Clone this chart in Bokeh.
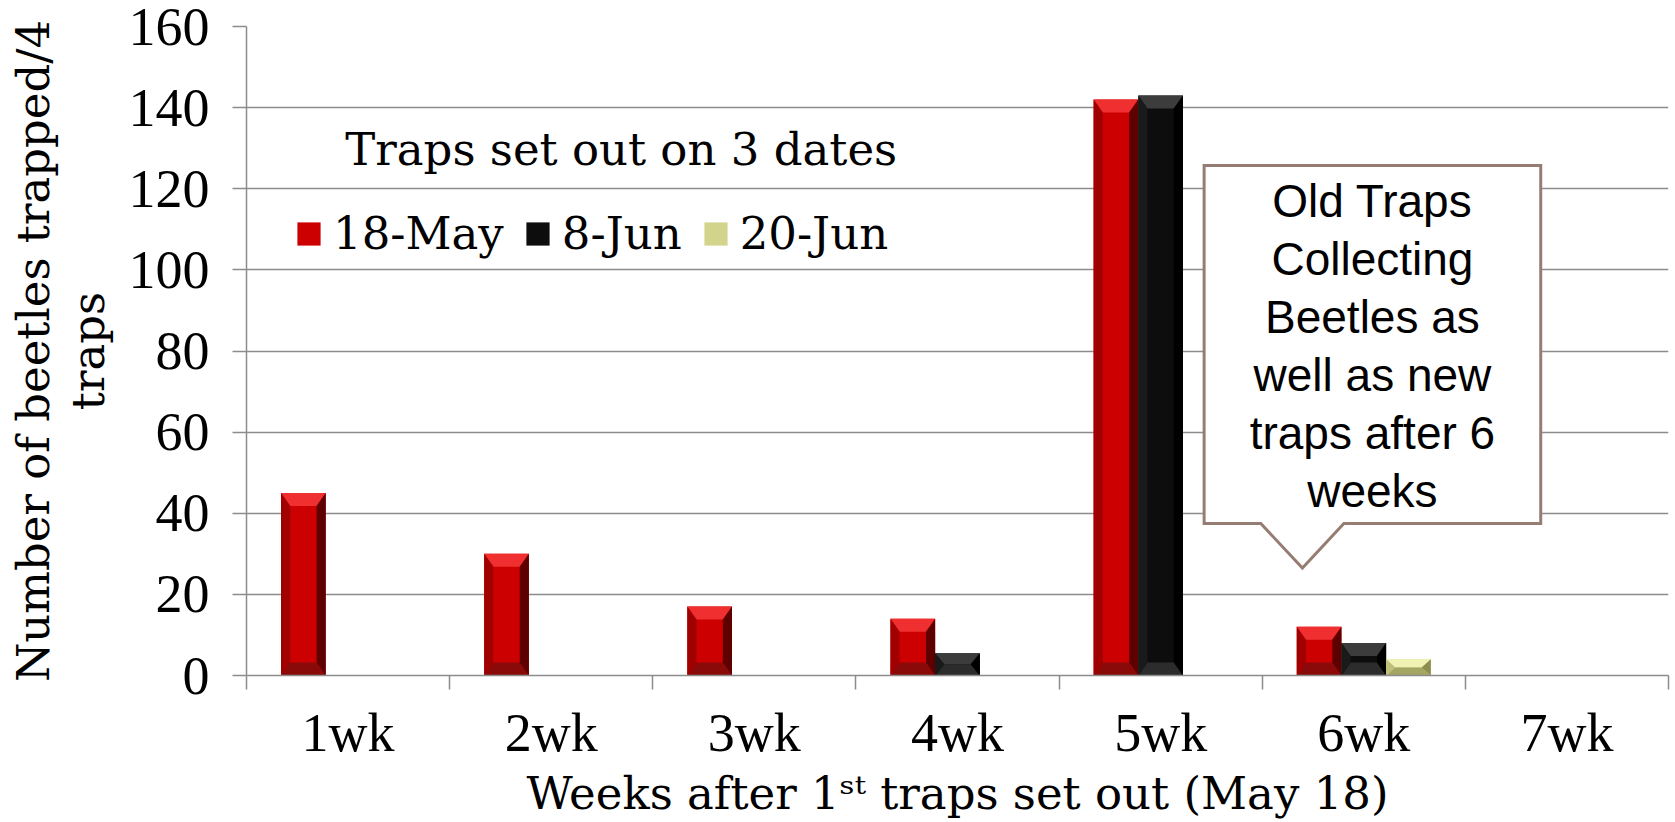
import numpy as np
from bokeh.plotting import figure
from bokeh.models import (Range1d, FixedTicker, ColumnDataSource, Legend, LegendItem, Label,
                          LinearAxis)
from bokeh.core.properties import value
from bokeh.embed import file_html
from bokeh.resources import INLINE

# ---------------- data ----------------
weeks = ["1wk", "2wk", "3wk", "4wk", "5wk", "6wk", "7wk"]
may18 = [45, 30, 17, 14, 142, 12, 0]
jun8 = [0, 0, 0, 5.5, 143, 8, 0]
jun20 = [0, 0, 0, 0, 0, 4, 0]
series_names = ["18-May", "8-Jun", "20-Jun"]
y_ticks = [0, 20, 40, 60, 80, 100, 120, 140, 160]
x_title = "Weeks after 1\u02e2\u1d57 traps set out (May 18)"
y_title_lines = ["Number of beetles trapped/4", "traps"]
legend_title = "Traps set out on 3 dates"
callout_lines = ["Old Traps", "Collecting", "Beetles as", "well as new", "traps after 6", "weeks"]

# ---------------- styles ----------------
SERIF = "Liberation Serif"
SERIF2 = "DejaVu Serif"
GRID = "#8c8c8c"
palettes = [
    dict(face="#CC0000", top="#F03030", bottom="#8A0A0A", left="#A00000", right="#5E0000"),
    dict(face="#0D0D0D", top="#3C3C3C", bottom="#2C2C2C", left="#1A1A1A", right="#000000"),
    dict(face="#D2D48C", top="#F0F2B4", bottom="#A4A664", left="#BEC07A", right="#8C8E50"),
]
offsets = [-0.22, 0.0, 0.22]
bar_w = 0.22
bev_x = 0.045
bev_y = 3.2

p = figure(width=1673, height=822,
           x_range=Range1d(0, len(weeks)), y_range=Range1d(0, 160),
           output_backend="svg", toolbar_location=None,
           min_border_left=246, min_border_right=5, min_border_top=26, min_border_bottom=146)
p.outline_line_color = None
p.background_fill_color = "white"
p.border_fill_color = "white"

centers = np.arange(len(weeks)) + 0.5
series = [may18, jun8, jun20]
main_renderers = []
for vals, off, pal in zip(series, offsets, palettes):
    xs_c = centers + off
    src = ColumnDataSource(dict(x=xs_c, top=vals))
    r = p.vbar(x="x", top="top", bottom=0, width=bar_w, source=src,
               fill_color=pal["face"], line_color=None)
    main_renderers.append(r)
    # bevel facets computed from the data
    pxs, pys, pcol = [], [], []
    for c, v in zip(xs_c, vals):
        if v <= 0:
            continue
        l, rr = c - bar_w / 2, c + bar_w / 2
        by = min(bev_y, v / 2.0)
        facets = [
            ([l, rr, rr - bev_x, l + bev_x], [v, v, v - by, v - by], pal["top"]),
            ([l, rr, rr - bev_x, l + bev_x], [0, 0, by, by], pal["bottom"]),
            ([l, l, l + bev_x, l + bev_x], [0, v, v - by, by], pal["left"]),
            ([rr, rr, rr - bev_x, rr - bev_x], [0, v, v - by, by], pal["right"]),
        ]
        for fx, fy, col in facets:
            pxs.append(fx); pys.append(fy); pcol.append(col)
    if pxs:
        p.patches(xs="xs", ys="ys", fill_color="c", line_color=None,
                  source=ColumnDataSource(dict(xs=pxs, ys=pys, c=pcol)))

# ---------------- axes ----------------
p.xgrid.visible = False
p.ygrid.grid_line_color = GRID
p.ygrid.grid_line_width = 1.5

ya = p.yaxis[0]
ya.ticker = FixedTicker(ticks=y_ticks, minor_ticks=[])
ya.major_tick_out = 14
ya.major_tick_in = 0
ya.minor_tick_out = 0
ya.minor_tick_in = 0
ya.axis_line_color = GRID
ya.axis_line_width = 1.5
ya.major_tick_line_color = GRID
ya.major_tick_line_width = 1.5
ya.major_label_text_font = SERIF
ya.major_label_text_font_size = "54px"
ya.major_label_text_color = "black"
ya.major_label_standoff = 23
ya.axis_label = y_title_lines[1]
ya.axis_label_text_font = SERIF2
ya.axis_label_text_font_size = "45px"
ya.axis_label_text_font_style = "normal"
ya.axis_label_text_color = "black"
ya.axis_label_standoff = 11

# outer axis carrying the first line of the y title
ya2 = LinearAxis(ticker=FixedTicker(ticks=[], minor_ticks=[]),
                 major_tick_out=0, major_tick_in=0, minor_tick_out=0, minor_tick_in=0,
                 axis_line_color=None, major_label_standoff=0,
                 major_label_text_font_size="0px",
                 axis_label=y_title_lines[0], axis_label_text_font=SERIF2,
                 axis_label_text_font_size="45px", axis_label_text_font_style="normal",
                 axis_label_text_color="black", axis_label_standoff=-1)
p.add_layout(ya2, "left")

xa = p.xaxis[0]
xa.ticker = FixedTicker(ticks=list(centers), minor_ticks=list(range(len(weeks) + 1)))
xa.major_label_overrides = {float(c): w for c, w in zip(centers, weeks)}
xa.major_tick_out = 0
xa.major_tick_in = 0
xa.minor_tick_out = 14
xa.minor_tick_in = 0
xa.minor_tick_line_color = GRID
xa.minor_tick_line_width = 1.5
xa.axis_line_color = GRID
xa.axis_line_width = 1.5
xa.major_label_text_font = SERIF
xa.major_label_text_font_size = "54px"
xa.major_label_text_color = "black"
xa.major_label_standoff = 13
xa.axis_label = x_title
xa.axis_label_text_font = SERIF2
xa.axis_label_text_font_size = "45px"
xa.axis_label_text_font_style = "normal"
xa.axis_label_text_color = "black"
xa.axis_label_standoff = 1

# ---------------- legend ----------------
legend = Legend(items=[LegendItem(label=n, renderers=[r]) for n, r in zip(series_names, main_renderers)],
                orientation="horizontal", location=(48, 415),
                glyph_width=29, glyph_height=29, label_standoff=10, spacing=19,
                padding=0, margin=0, border_line_color=None, background_fill_alpha=0,
                label_text_font=SERIF2, label_text_font_size="45px", label_text_color="black")
p.add_layout(legend)
p.add_layout(Label(x=0.486, y=129.6, text=legend_title, text_baseline="alphabetic",
                   text_font=SERIF2, text_font_size="45px", text_color="black"))

# ---------------- callout ----------------
box_l, box_r, box_t, box_b = 4.714, 6.371, 125.75, 37.46
ptr_l, ptr_tip, ptr_r, tip_y = 4.993, 5.198, 5.402, 26.5
p.patch(x=[box_l, box_r, box_r, ptr_r, ptr_tip, ptr_l, box_l],
        y=[box_t, box_t, box_b, box_b, tip_y, box_b, box_b],
        fill_color="white", line_color="#967D73", line_width=3, line_join="miter")
first_base, pitch = 117.0, 14.3
p.text(x=[(box_l + box_r) / 2] * len(callout_lines),
       y=[first_base - i * pitch for i in range(len(callout_lines))],
       text=callout_lines, text_align="center", text_baseline="alphabetic",
       text_font=value("Liberation Sans"), text_font_size=value("46px"), text_color="black")

open("out.html", "w").write(file_html(p, INLINE))
